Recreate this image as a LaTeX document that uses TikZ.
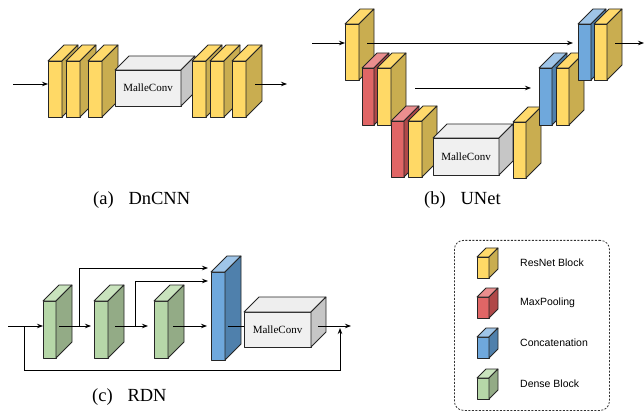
\documentclass[tikz,border=0pt]{standalone}
\usepackage{fontspec}
\setmainfont{Liberation Serif}
\newfontfamily\legfont{Liberation Sans}
\usetikzlibrary{arrows.meta,calc}
\definecolor{Yfront}{HTML}{FFD966}
\definecolor{Ytop}{HTML}{FFDA6C}
\definecolor{Yside}{HTML}{C9AD50}
\definecolor{Rfront}{HTML}{E06666}
\definecolor{Rtop}{HTML}{EA8E8E}
\definecolor{Rside}{HTML}{B04848}
\definecolor{Bfront}{HTML}{6FA8DC}
\definecolor{Btop}{HTML}{9FC5E8}
\definecolor{Bside}{HTML}{4F80AC}
\definecolor{Gfront}{HTML}{B6D7A8}
\definecolor{Gtop}{HTML}{C9E3BD}
\definecolor{Gside}{HTML}{93AB86}
\definecolor{Wfront}{HTML}{F0F0F0}
\definecolor{Wtop}{HTML}{EEEEEE}
\definecolor{Wside}{HTML}{C6C6C6}
\tikzset{
  face/.style={draw=black!85, line width=0.8pt, line join=round},
  arr/.style={line width=0.9pt, -{Stealth[length=6pt,width=4.5pt]}},
  ln/.style={line width=0.9pt},
  captxt/.style={font=\fontsize{18.5}{20}\selectfont, inner sep=0pt},
  mclab/.style={font=\fontsize{11}{12}\selectfont},
  leg/.style={font=\legfont\fontsize{10.5}{12}\selectfont, anchor=west, inner sep=0pt},
}
\newcommand\cuboid[8]{%
  \node[face, fill=#7front, minimum width=#4pt, minimum height=#5pt, anchor=north west, inner sep=0pt, outer sep=0pt, mclab] (#1) at (#2,#3) {#8};
  \draw[face, fill=#7top] (#1.north west) -- ++(#6,-#6) -- ++(#4,0) -- (#1.north east) -- cycle;
  \draw[face, fill=#7side] (#1.north east) -- ++(#6,-#6) -- ++(0,#5) -- (#1.south east) -- cycle;
}
\begin{document}
\begin{tikzpicture}[x=1pt,y=-1pt]
\useasboundingbox (0,0) rectangle (644,411);
% ---------- (a) DnCNN ----------
\cuboid{d1}{48}{61}{14}{56}{16}{Y}{}
\cuboid{d2}{66}{61}{14}{56}{16}{Y}{}
\cuboid{d3}{88}{61}{14}{56}{16}{Y}{}
\cuboid{mc1}{115}{70}{66}{36}{14}{W}{MalleConv}
\cuboid{d4}{192}{61}{14}{56}{16}{Y}{}
\cuboid{d5}{210}{61}{14}{56}{16}{Y}{}
\cuboid{d6}{232}{61}{14}{56}{16}{Y}{}
\coordinate (ain) at (13,84);
\coordinate (aout0) at (255,84);
\coordinate (aout) at (287,84);
\draw[arr] (ain) -- (ain -| d1.west);
\draw[arr] (aout0) -- (aout);
\node[captxt, anchor=west] (capa) at (93,200) {(a)\hspace{0.8em}DnCNN};
% ---------- (b) UNet ----------
\cuboid{u1}{345}{24}{14}{56}{15}{Y}{}
\cuboid{r1}{362}{68}{12}{57}{15}{R}{}
\cuboid{y2}{377}{68}{14}{57}{15}{Y}{}
\cuboid{r2}{391}{121}{13}{56}{15}{R}{}
\cuboid{y3}{408}{121}{14}{56}{15}{Y}{}
\cuboid{mc2}{433}{138}{66}{37}{14}{W}{MalleConv}
\cuboid{y4}{513}{122}{13}{56}{15}{Y}{}
\cuboid{c2}{539}{68}{13}{57}{15}{B}{}
\cuboid{y5}{556}{68}{13}{57}{15}{Y}{}
\cuboid{c1}{578}{24}{13}{56}{15}{B}{}
\cuboid{y6}{594}{24}{13}{56}{15}{Y}{}
\coordinate (bin) at (312,43);
\coordinate (bs1) at (367,43);
\coordinate (bs1e) at (573,43);
\coordinate (bs2) at (415,88);
\coordinate (bs2e) at (531,88);
\coordinate (bout0) at (615,43);
\coordinate (bout) at (644,43);
\draw[arr] (bin) -- (bin -| u1.west);
\draw[arr] (bs1) -- (bs1e);
\draw[arr] (bs2) -- (bs2e);
\draw[arr] (bout0) -- (bout);
\node[captxt, anchor=west] (capb) at (424,200) {(b)\hspace{0.8em}UNet};
% ---------- (c) RDN ----------
\cuboid{g1}{43}{301}{13}{57}{16}{G}{}
\cuboid{g2}{94}{301}{14}{57}{16}{G}{}
\cuboid{g3}{154}{301}{14}{57}{16}{G}{}
\cuboid{bb}{211}{272}{14}{88}{16}{B}{}
\cuboid{mc3}{244}{312}{67}{35}{15}{W}{MalleConv}
\coordinate (cin) at (8,326);
\coordinate (cl) at (24,326);
\coordinate (c1a) at (59,326);
\coordinate (c1b) at (91,326);
\coordinate (cs1) at (79,326);
\coordinate (c2a) at (115,326);
\coordinate (c2b) at (148,326);
\coordinate (cs2) at (135,326);
\coordinate (c3a) at (173,326);
\coordinate (c3b) at (207,326);
\coordinate (cs1e) at (208,268);
\coordinate (cs2e) at (208,281);
\coordinate (c4a) at (228,326);
\coordinate (c5a) at (318,326);
\coordinate (cout) at (351,326);
\coordinate (cbot) at (340,370);
\coordinate (ctip) at (340,328);
\draw[arr] (cin) -- (cin -| g1.west);
\draw[arr] (c1a) -- (c1b);
\draw[arr] (c2a) -- (c2b);
\draw[arr] (c3a) -- (c3b);
\draw[ln] (c4a) -- (c4a -| mc3.west);
\draw[arr] (c5a) -- (cout);
\draw[arr] (cs1) |- (cs1e);
\draw[arr] (cs2) |- (cs2e);
\draw[arr] (cl) |- (cbot) -- (ctip);
\node[captxt, anchor=west] (capc) at (92,397) {(c)\hspace{0.8em}RDN};
% ---------- legend ----------
\node[draw=black!80, line width=0.8pt, dash pattern=on 2pt off 1.5pt, rounded corners=9pt, minimum width=155pt, minimum height=170pt, anchor=north west, inner sep=0pt] (legbox) at (454,240) {};
\cuboid{ly}{477}{257}{12}{21}{9}{Y}{}
\cuboid{lr}{477}{297}{12}{21}{9}{R}{}
\cuboid{lb}{477}{337}{12}{21}{9}{B}{}
\cuboid{lg}{477}{378}{12}{21}{9}{G}{}
\node[leg] (tly) at (520,263) {ResNet Block};
\node[leg] (tlr) at (520,303) {MaxPooling};
\node[leg] (tlb) at (520,343) {Concatenation};
\node[leg] (tlg) at (520,384) {Dense Block};
\end{tikzpicture}
\end{document}
